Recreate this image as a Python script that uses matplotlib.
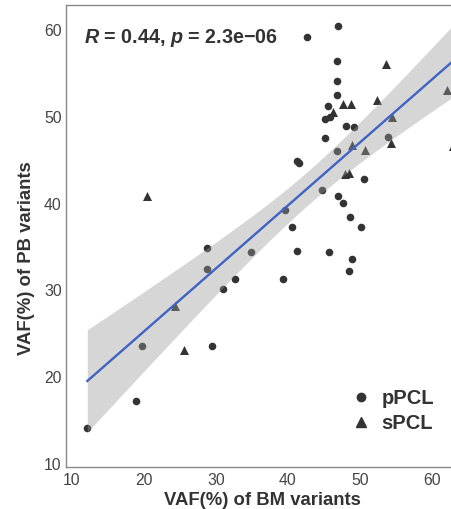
import numpy as np
import matplotlib
matplotlib.use("Agg")
import matplotlib.pyplot as plt
from matplotlib.lines import Line2D

plt.rcParams['font.family'] = ['Liberation Sans', 'DejaVu Sans']
plt.rcParams['mathtext.fontset'] = 'custom'
plt.rcParams['mathtext.it'] = 'Liberation Sans:bold:italic'
plt.rcParams['mathtext.rm'] = 'Liberation Sans:bold'

# VAF (%) in bone marrow vs peripheral blood, primary PCL
ppcl_bm = [47.0, 42.6, 46.85, 46.76, 46.85, 45.5, 45.14, 45.83, 48.1, 49.17,
           45.18, 53.96, 46.74, 41.29, 41.49, 50.6, 44.79, 39.63, 47.01, 47.68,
           48.65, 40.56, 50.18, 28.79, 34.86, 41.21, 45.74, 48.86, 48.54, 28.79,
           32.64, 39.33, 31.01, 19.76, 29.44, 18.89, 12.13]
ppcl_pb = [60.5, 59.2, 56.4, 54.1, 52.5, 51.2, 49.75, 49.98, 49.0, 48.86,
           47.6, 47.7, 46.1, 44.94, 44.71, 42.87, 41.6, 39.32, 40.91, 40.03,
           38.46, 37.27, 37.3, 34.94, 34.42, 34.57, 34.37, 33.58, 32.2, 32.5,
           31.35, 31.28, 30.13, 23.59, 23.59, 17.22, 14.11]

# secondary PCL
spcl_bm = [53.61, 62.04, 52.32, 47.71, 48.75, 46.29, 54.49, 54.26, 62.85, 48.96,
           50.63, 47.92, 48.47, 20.46, 24.31, 25.56]
spcl_pb = [56.14, 53.14, 51.9, 51.5, 51.5, 50.55, 50.0, 46.95, 46.64, 46.8,
           46.23, 43.41, 43.49, 40.88, 28.2, 23.13]

# lm trend line (ends of the fitted segment) and correlation label
fit_x = [12.13, 63.0]
fit_y = [19.56, 56.49]
cor_text = r'$R$ = 0.44, $p$ = 2.3e−06'

x = np.array(ppcl_bm + spcl_bm)
y = np.array(ppcl_pb + spcl_pb)

slope = (fit_y[1] - fit_y[0]) / (fit_x[1] - fit_x[0])
intercept = fit_y[0] - slope * fit_x[0]

# 95% confidence band around the trend line
n = len(x)
resid = y - (slope * x + intercept)
s = np.sqrt(np.sum(resid ** 2) / (n - 2))
sxx = np.sum((x - x.mean()) ** 2)
t_crit = 2.008  # t(0.975, df ~ 51)
xs = np.linspace(fit_x[0], fit_x[1], 200)
ys = slope * xs + intercept
se = s * np.sqrt(1.0 / n + (xs - x.mean()) ** 2 / sxx)

fig = plt.figure(figsize=(4.52, 5.09), dpi=100)
ax = fig.add_axes([0.146, 0.0825, 0.854, 0.9075])

pt_color = '#333333'
ax.scatter(ppcl_bm, ppcl_pb, s=30, marker='o', color=pt_color, linewidths=0, zorder=2)
ax.scatter(spcl_bm, spcl_pb, s=42, marker='^', color=pt_color, linewidths=0, zorder=2,
           clip_on=False)
ax.fill_between(xs, ys - t_crit * se, ys + t_crit * se, color='#999999', alpha=0.4,
                linewidth=0, zorder=3)
ax.plot(xs, ys, color='#3F63C4', lw=1.7, zorder=4)

ax.set_xlim(9.17, 62.78)
ax.set_ylim(9.65, 62.88)
ax.set_xticks([10, 20, 30, 40, 50, 60])
ax.set_yticks([10, 20, 30, 40, 50, 60])
ax.tick_params(length=0, labelsize=11.3, labelcolor='#444444')
ax.tick_params(axis='x', pad=4)
ax.tick_params(axis='y', pad=3)
for side in ['left', 'bottom', 'top']:
    ax.spines[side].set_color('#888888')
    ax.spines[side].set_linewidth(1.0)
ax.spines['right'].set_visible(False)

ax.set_xlabel('VAF(%) of BM variants', fontsize=13.3, fontweight='bold', color='#333333')
ax.set_ylabel('VAF(%) of PB variants', fontsize=13.3, fontweight='bold', color='#333333')
ax.xaxis.set_label_coords(0.51, -0.054)
ax.yaxis.set_label_coords(-0.08, 0.452)

ax.text(0.047, 0.918, cor_text, transform=ax.transAxes, fontsize=14.2,
        fontweight='bold', color='#333333', ha='left', va='baseline')

handles = [Line2D([], [], marker='o', ls='', color=pt_color, markersize=6, label='pPCL'),
           Line2D([], [], marker='^', ls='', color=pt_color, markersize=7, label='sPCL')]
leg = ax.legend(handles=handles, loc='lower right', bbox_to_anchor=(1.0, 0.034),
                frameon=False, handletextpad=0.2, labelspacing=0.32, handlelength=1.6,
                prop={'weight': 'bold', 'size': 14.5})
for t in leg.get_texts():
    t.set_color('#333333')

fig.savefig('out.png', dpi=100)
